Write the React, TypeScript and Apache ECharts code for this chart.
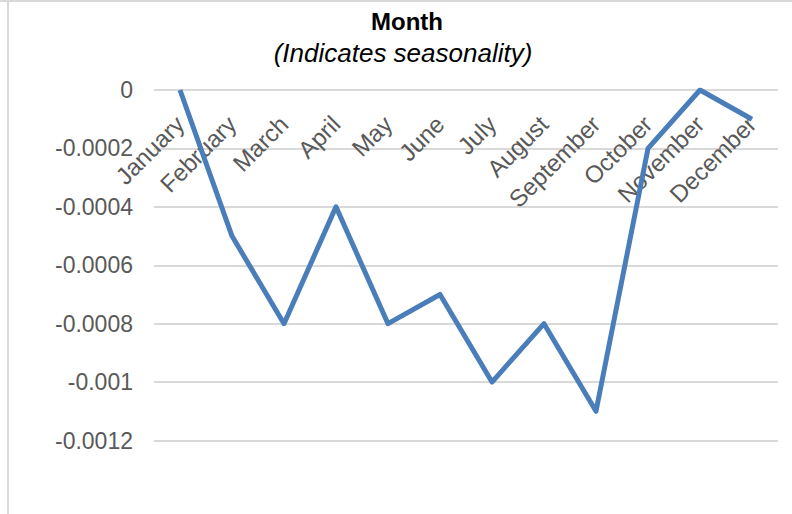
import React, { useEffect, useRef } from "react";
import * as echarts from "echarts";

const months = [
  "January", "February", "March", "April", "May", "June",
  "July", "August", "September", "October", "November", "December",
];
const seasonality = [
  0, -0.0005, -0.0008, -0.0004, -0.0008, -0.0007,
  -0.001, -0.0008, -0.0011, -0.0002, 0, -0.0001,
];
const yTicks = [0, -0.0002, -0.0004, -0.0006, -0.0008, -0.001, -0.0012];

const titleText = "Month";
const subtitleText = "(Indicates seasonality)";

export default function App() {
  const ref = useRef<HTMLDivElement>(null);

  useEffect(() => {
    if (!ref.current) return;
    const chart = echarts.init(ref.current, null, { renderer: "svg" });
    const font = "Arial, 'Liberation Sans', sans-serif";
    chart.setOption({
      animation: false,
      backgroundColor: "#ffffff",
      graphic: [
        // chart frame (top and left edges)
        { type: "line", shape: { x1: 0, y1: 1, x2: 792, y2: 1 }, style: { stroke: "#d9d9d9", lineWidth: 2 } },
        { type: "line", shape: { x1: 8, y1: 1, x2: 8, y2: 514 }, style: { stroke: "#d9d9d9", lineWidth: 2 } },
        // two-line title
        {
          type: "text",
          x: 407,
          y: 21,
          style: {
            text: titleText,
            textAlign: "center",
            textVerticalAlign: "middle",
            fontFamily: font,
            fontSize: 24,
            fontWeight: "bold",
            fill: "#000000",
          },
        },
        {
          type: "text",
          x: 403,
          y: 53,
          style: {
            text: subtitleText,
            textAlign: "center",
            textVerticalAlign: "middle",
            fontFamily: font,
            fontSize: 26,
            fontStyle: "italic",
            fill: "#000000",
          },
        },
      ],
      grid: {
        left: 154,
        right: 14,
        top: 90,
        bottom: 73.5,
        containLabel: false,
        outerBoundsMode: "none",
      },
      xAxis: {
        type: "category",
        position: "top",
        data: months,
        boundaryGap: true,
        axisLine: { show: false },
        axisTick: { show: false },
        axisLabel: {
          inside: true,
          interval: 0,
          rotate: 45,
          margin: 30,
          fontFamily: font,
          fontSize: 24,
          color: "#595959",
          hideOverlap: false,
        },
      },
      yAxis: {
        type: "value",
        min: -0.0012,
        max: 0,
        interval: 0.0002,
        axisLine: { show: false },
        axisTick: { show: false },
        splitLine: { lineStyle: { color: "#d9d9d9", width: 2 } },
        axisLabel: {
          margin: 21,
          fontFamily: font,
          fontSize: 23,
          color: "#595959",
          formatter: (v: number) => {
            const match = yTicks.find((t) => Math.abs(t - v) < 1e-9);
            const val = match === undefined ? v : match;
            return val === 0 ? "0" : String(Number(val.toPrecision(6)));
          },
        },
      },
      series: [
        {
          type: "line",
          data: seasonality,
          symbol: "none",
          z: 3,
          lineStyle: { color: "#4a7ebb", width: 5, join: "round" },
        },
      ],
    });
    return () => chart.dispose();
  }, []);

  return (
    <div
      ref={ref}
      style={{ position: "fixed", left: 0, top: 0, width: 792, height: 514 }}
    />
  );
}
